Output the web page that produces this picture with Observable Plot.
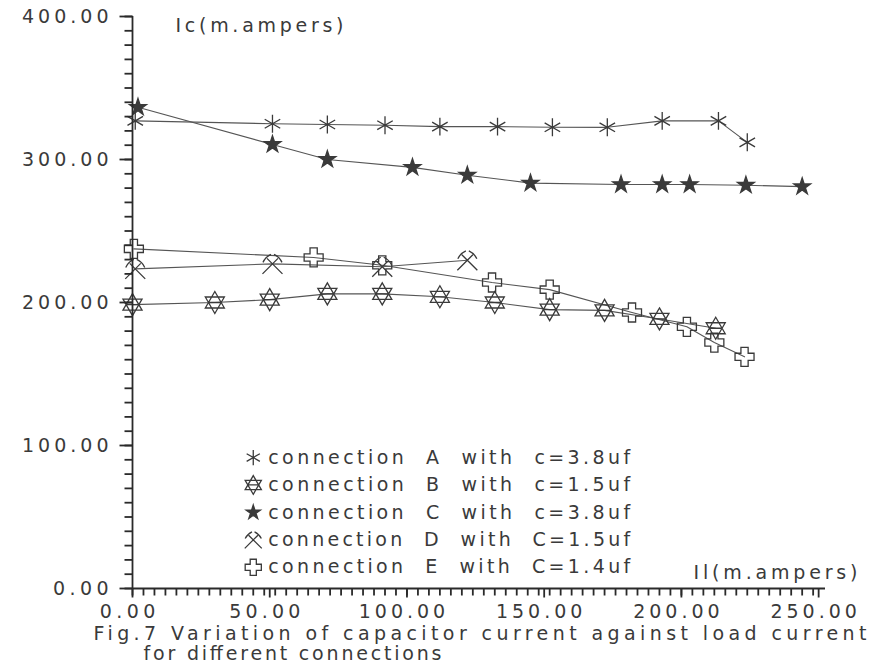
<!DOCTYPE html>
<html><head><meta charset="utf-8">
<script src="https://cdn.jsdelivr.net/npm/d3@7"></script>
<script src="https://cdn.jsdelivr.net/npm/@observablehq/plot@0.6"></script>
<style>
html,body{margin:0;padding:0;background:#fff;}
#chart svg text{white-space:pre;}
</style></head><body><div id="chart"></div>
<script>
// ---- data ----
const series = ["A", "B", "C", "D", "E"];
const legendLabels = [
  "connection  A  with  c=3.8uf",
  "connection  B  with  c=1.5uf",
  "connection  C  with  c=3.8uf",
  "connection  D  with  C=1.5uf",
  "connection  E  with  C=1.4uf"
];
const aX = [1, 51, 71, 92, 112, 133, 153, 173, 193, 213.5, 224];
const aY = [327, 325, 324.5, 324, 323, 323, 322.5, 322.5, 327, 327, 312];
const bX = [0, 30, 50, 71, 91, 112, 132, 152, 172, 192, 212.5];
const bY = [198.5, 200, 202, 206, 206, 204, 200, 195, 194.5, 188.5, 182];
const cX = [2, 51, 71, 102, 122, 145, 178, 193, 203, 223.5, 244];
const cY = [336.5, 310.5, 300, 294.5, 289, 283.5, 282.5, 282.5, 282.5, 282, 281];
const dX = [1, 51, 91, 122];
const dY = [223.5, 227, 225, 229.5];
const eX = [0.5, 66, 91, 131, 152, 182, 202, 212, 223];
const eY = [237.5, 231.5, 226, 214, 209, 193, 183, 172, 162];

const xTicks = [0, 50, 100, 150, 200, 250];
const yTicks = [0, 100, 200, 300, 400];
const xMinor = d3.range(0, 252, 4);
const yMinor = d3.range(0, 401, 10);
const xTitle = "Il(m.ampers)";
const yTitle = "Ic(m.ampers)";
const captionLines = [
  "Fig.7 Variation of capacitor current against load current",
  "for different connections"
];

// ---- build table ----
const xs = [aX, bX, cX, dX, eX], ys = [aY, bY, cY, dY, eY];
const rows = series.flatMap((s, k) => xs[k].map((x, i) => ({series: s, x, y: ys[k][i]})));

// ---- custom symbols ----
const ink = "#3a3a3a";
const tickInk = "#2a2a2a";
function sym(fn) { return {draw(c, size) { fn(c, Math.sqrt(size / Math.PI)); }}; }
const hexagram = sym((c, R) => {
  const u = R * Math.sqrt(3) / 2;
  c.moveTo(0, -R); c.lineTo(u, R / 2); c.lineTo(-u, R / 2); c.closePath();
  c.moveTo(0, R); c.lineTo(u, -R / 2); c.lineTo(-u, -R / 2); c.closePath();
  c.moveTo(-R * 0.5, 0); c.lineTo(R * 0.5, 0);
});
const hammers = sym((c, R) => {
  c.moveTo(-R, R); c.lineTo(R * 0.55, -R * 0.55);
  c.moveTo(R, R); c.lineTo(-R * 0.55, -R * 0.55);
  c.moveTo(R * 0.15, -R * 0.95); c.quadraticCurveTo(R * 0.7, -R * 0.7, R * 0.95, -R * 0.15);
  c.moveTo(-R * 0.15, -R * 0.95); c.quadraticCurveTo(-R * 0.7, -R * 0.7, -R * 0.95, -R * 0.15);
});
const plusOutline = sym((c, R) => {
  const a = R * 0.38;
  const p = [[-a,-R],[a,-R],[a,-a],[R,-a],[R,a],[a,a],[a,R],[-a,R],[-a,a],[-R,a],[-R,-a],[-a,-a]];
  c.moveTo(p[0][0], p[0][1]);
  for (let i = 1; i < p.length; i++) c.lineTo(p[i][0], p[i][1]);
  c.closePath();
});
const tickLeft = sym((c, L) => { c.moveTo(-L, 0); c.lineTo(0, 0); });
const tickDown = sym((c, L) => { c.moveTo(0, 0); c.lineTo(0, L); });

const symbolSpec = {
  A: {symbol: "asterisk", r: 8.5, fill: "none"},
  B: {symbol: hexagram, r: 11, fill: "none"},
  C: {symbol: "star", r: 5.3, fill: ink},
  D: {symbol: hammers, r: 10, fill: "none"},
  E: {symbol: plusOutline, r: 9.5, fill: "none"}
};

// legend layout (in data units of the chart's scales)
const legendX = 44, legendTop = 91.6, legendStep = 19.2;

const seriesDots = series.map(s => Plot.dot(rows.filter(d => d.series === s), {
  x: "x", y: "y", symbol: symbolSpec[s].symbol, r: symbolSpec[s].r,
  fill: symbolSpec[s].fill, stroke: ink, strokeWidth: 1.3
}));
const legendDots = series.map((s, i) => Plot.dot([legendLabels[i]], {
  x: () => legendX, y: () => legendTop - i * legendStep,
  symbol: symbolSpec[s].symbol, r: symbolSpec[s].r * 0.85,
  fill: symbolSpec[s].fill, stroke: ink, strokeWidth: 1.3
}));

const chart = Plot.plot({
  width: 871, height: 666,
  marginLeft: 132, marginTop: 16, marginBottom: 78, marginRight: 46,
  x: {domain: [0, 252.5]},
  y: {domain: [0, 400]},
  style: {fontFamily: "'DejaVu Sans', sans-serif", fontSize: "19px", color: ink, background: "#fff", overflow: "visible"},
  marks: [
    Plot.axisY({ticks: yTicks, tickSize: 0, tickPadding: 24, tickFormat: d => d.toFixed(2), label: null}),
    Plot.axisX({ticks: xTicks, tickSize: 0, tickPadding: 16, dx: -5, tickFormat: d => d.toFixed(2), label: null}),
    Plot.line(rows, {x: "x", y: "y", z: "series", stroke: "#555", strokeWidth: 1.1}),
    ...seriesDots,
    ...legendDots,
    Plot.text(legendLabels, {x: () => legendX, y: (d, i) => legendTop - i * legendStep,
      text: d => d, dx: 15, textAnchor: "start", lineAnchor: "middle", fill: ink}),
    Plot.text([yTitle], {frameAnchor: "top-left", dx: 43, dy: 9, text: d => d,
      textAnchor: "start", lineAnchor: "middle", fill: ink}),
    Plot.text([xTitle], {frameAnchor: "bottom-right", dx: 32, dy: -16, text: d => d,
      textAnchor: "end", lineAnchor: "middle", fill: ink}),
    Plot.text([captionLines[0]], {frameAnchor: "bottom-left", dx: -39, dy: 45, text: d => d,
      textAnchor: "start", lineAnchor: "middle", fill: ink}),
    Plot.text([captionLines[1]], {frameAnchor: "bottom-left", dx: 11, dy: 65, text: d => d,
      textAnchor: "start", lineAnchor: "middle", fill: ink}),
    // axis lines and tick marks, drawn last so nothing covers them
    Plot.ruleX([0], {stroke: tickInk, strokeWidth: 1.8}),
    Plot.ruleY([0], {stroke: tickInk, strokeWidth: 1.8}),
    Plot.dot(yMinor, {x: () => 0, y: d => d, symbol: tickLeft, r: 8, fill: "none", stroke: tickInk, strokeWidth: 1.8}),
    Plot.dot(yTicks, {x: () => 0, y: d => d, symbol: tickLeft, r: 13, fill: "none", stroke: tickInk, strokeWidth: 1.8}),
    Plot.dot(xMinor, {x: d => d, y: () => 0, symbol: tickDown, r: 7, fill: "none", stroke: tickInk, strokeWidth: 1.8}),
    Plot.dot(xTicks, {x: d => d, y: () => 0, symbol: tickDown, r: 9, fill: "none", stroke: tickInk, strokeWidth: 1.8})
  ]
});

// stretch text to the wide plotter-font widths of the reference
const widths = new Map([
  [yTitle, 168], [xTitle, 164], [captionLines[0], 773], [captionLines[1], 298],
  ...legendLabels.map(l => [l, 362])
]);
d3.select(chart).selectAll("text").each(function () {
  const t = this.textContent;
  if (!t) return;
  let w = widths.get(t);
  if (w === undefined && /^\d+\.\d\d$/.test(t)) w = (t.length - 1) * 15.5 + 9;
  if (w !== undefined) { this.setAttribute("textLength", w); this.setAttribute("lengthAdjust", "spacing"); }
});
document.getElementById("chart").appendChild(chart);
</script>
</body></html>
